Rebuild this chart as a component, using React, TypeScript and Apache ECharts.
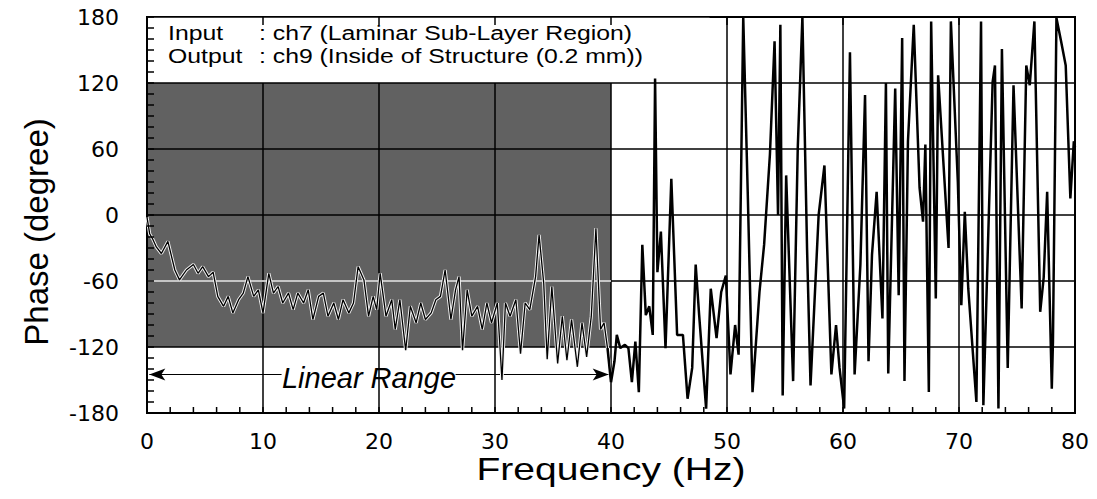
import React, { useEffect, useRef } from "react";
import * as echarts from "echarts";

const freq = [
  0, 0.23, 0.5, 0.8, 1.24, 1.8, 2.4, 2.8, 3.4, 4.0, 4.4, 4.8, 5.3, 5.7, 6.1, 6.6, 7.0, 7.4, 7.9, 8.3,
  8.7, 9.2, 9.6, 10.0, 10.5, 10.9, 11.3, 11.7, 12.2, 12.6, 13.0, 13.5, 13.9, 14.3, 14.8, 15.2, 15.6, 16.1, 16.5, 16.9,
  17.4, 17.8, 18.2, 18.7, 19.1, 19.5, 19.8, 20.1, 20.6, 21.1, 21.4, 21.8, 22.3, 22.7, 23.2, 23.6, 24.0, 24.5, 24.9, 25.3,
  25.7, 26.2, 26.6, 26.9, 27.2, 27.6, 28.0, 28.5, 28.9, 29.3, 29.7, 30.2, 30.6, 30.9, 31.3, 31.8, 32.2, 32.6, 33.0, 33.5,
  33.8, 34.2, 34.5, 34.9, 35.4, 35.8, 36.2, 36.6, 37.1, 37.5, 37.9, 38.3, 38.7, 39.1, 39.4, 39.7, 40.0, 40.3, 40.5, 40.8,
  41.2, 41.5, 41.8, 42.1, 42.4, 42.7, 43.0, 43.3, 43.6, 43.8, 44.0, 44.3, 44.7, 45.2, 45.7, 46.2, 46.6, 47.0, 47.3, 47.6,
  48.2, 48.6, 49.1, 49.5, 49.9, 50.3, 50.7, 51.0, 51.4, 51.8, 52.2, 52.8, 53.2, 53.7, 54.1, 54.4, 54.6, 54.8, 55.1, 55.7,
  56.1, 56.5, 56.9, 57.2, 57.9, 58.4, 59.0, 59.4, 59.7, 60.1, 60.6, 61.0, 61.5, 61.9, 62.2, 62.5, 62.9, 63.4, 63.7, 63.9,
  64.5, 64.8, 65.1, 65.3, 65.6, 66.1, 66.6, 66.9, 67.1, 67.4, 67.6, 68.0, 68.2, 69.1, 69.3, 69.9, 70.2, 70.5, 70.8, 71.5,
  71.9, 72.1, 72.9, 73.1, 73.4, 73.7, 74.2, 74.7, 75.4, 75.8, 76.1, 76.5, 77.0, 77.3, 77.6, 78.0, 78.1, 78.4, 78.8, 79.2,
  79.6, 79.9, 80.0,
];

const phase = [
  -2, -17, -22, -29, -35, -24, -50, -59, -50, -45, -53, -47, -56, -52, -74, -83, -74, -89, -77, -71,
  -56, -74, -68, -89, -53, -71, -65, -80, -71, -86, -71, -80, -68, -95, -74, -71, -92, -80, -95, -77,
  -89, -80, -47, -59, -92, -74, -86, -53, -92, -77, -104, -77, -123, -83, -98, -80, -95, -89, -77, -74,
  -50, -95, -68, -56, -123, -68, -92, -83, -104, -80, -98, -80, -150, -80, -92, -77, -126, -80, -86, -56,
  -18, -62, -131, -65, -135, -92, -132, -95, -138, -98, -129, -92, -12, -104, -98, -121, -152, -133, -109, -121,
  -118, -121, -152, -115, -161, -27, -91, -83, -109, 124, -52, -15, -121, 33, -109, -109, -167, -139, -45, -91,
  -176, -67, -112, -70, -55, -145, -100, -127, 180, 15, -161, -70, -27, 55, 158, 0, 173, -164, 36, -151,
  61, 180, -30, -155, 0, 45, -145, -100, -139, -176, 148, -145, -45, 109, -133, -36, 21, -94, 120, -144,
  115, -73, 161, -151, 67, 173, 25, -6, 64, -161, 176, -76, 127, -30, 176, 30, -82, 3, -67, -170,
  176, -173, 121, 136, -176, 151, -139, 118, -85, 136, 118, 176, -88, -57, 21, -158, -115, 179, 158, 136,
  15, 67, 62,
];

const linearRange = [0, 40];
const shadePhase = [-120, 120];
const yTicks = { min: -180, max: 180, interval: 60, minorStep: 10 };
const xTicks = { min: 0, max: 80, interval: 10, minorStep: 2 };

const FONT = "'Liberation Sans', Arial, Helvetica, sans-serif";
const WIDE = "'DejaVu Sans', Verdana, sans-serif";

export default function App() {
  const ref = useRef<HTMLDivElement>(null);
  useEffect(() => {
    if (!ref.current) return;
    const chart = echarts.init(ref.current, null, { renderer: "svg" });
    const pts = freq.map((f, i) => [f, phase[i]]);
    const inner = pts.filter((p) => p[0] <= linearRange[1] + 0.1);
    const outer = pts.filter((p) => p[0] >= linearRange[1] - 0.35);

    const texts: any[] = [
      { type: "text", z: 100, x: 168, y: 33, scaleX: 1.18, style: { text: "Input", font: `21px ${FONT}`, fill: "#000", textVerticalAlign: "middle" } },
      { type: "text", z: 100, x: 259, y: 33, scaleX: 1.18, style: { text: ": ch7 (Laminar Sub-Layer Region)", font: `21px ${FONT}`, fill: "#000", textVerticalAlign: "middle" } },
      { type: "text", z: 100, x: 168, y: 56, scaleX: 1.18, style: { text: "Output", font: `21px ${FONT}`, fill: "#000", textVerticalAlign: "middle" } },
      { type: "text", z: 100, x: 259, y: 56, scaleX: 1.18, style: { text: ": ch9 (Inside of Structure (0.2 mm))", font: `21px ${FONT}`, fill: "#000", textVerticalAlign: "middle" } },
      { type: "text", z: 100, x: 369, y: 378, style: { text: "Linear Range", font: `italic 29px ${FONT}`, fill: "#000", textAlign: "center", textVerticalAlign: "middle" } },
      { type: "text", z: 100, x: 611, y: 469, scaleX: 1.22, style: { text: "Frequency (Hz)", font: `32px ${FONT}`, fill: "#000", textAlign: "center", textVerticalAlign: "middle" } },
      { type: "text", z: 100, x: 36, y: 232, rotation: Math.PI / 2, style: { text: "Phase (degree)", font: `33px ${FONT}`, fill: "#000", textAlign: "center", textVerticalAlign: "middle" } },
    ];

    chart.setOption({
      animation: false,
      backgroundColor: "#fff",
      grid: {
        left: 147,
        right: 22,
        top: 17,
        bottom: 86,
        show: true,
        borderColor: "#000",
        borderWidth: 2,
        backgroundColor: "#fff",
      },
      xAxis: {
        type: "value",
        min: xTicks.min,
        max: xTicks.max,
        interval: xTicks.interval,
        z: 0,
        axisLine: { show: true, onZero: false, lineStyle: { color: "#000", width: 2 } },
        axisTick: { show: false },
        axisLabel: { color: "#000", fontSize: 22, fontFamily: WIDE, margin: 17 },
        splitLine: { show: true, lineStyle: { color: "#000", width: 1.5 } },
      },
      yAxis: {
        type: "value",
        min: yTicks.min,
        max: yTicks.max,
        interval: yTicks.interval,
        z: 5,
        axisLine: { show: true, onZero: false, lineStyle: { color: "#000", width: 2 } },
        axisTick: { show: false },
        axisLabel: { color: "#000", fontSize: 22, fontFamily: WIDE, margin: 28 },
        splitLine: { show: true, lineStyle: { color: "#000", width: 1.5 } },
      },
      series: [
        {
          type: "line",
          data: [],
          z: 2,
          silent: true,
          markArea: {
            silent: true,
            data: [
              [
                { coord: [linearRange[0], shadePhase[0]], itemStyle: { color: "rgba(0,0,0,0.62)" } },
                { coord: [linearRange[1], shadePhase[1]] },
              ],
              [
                { coord: [0, 120], itemStyle: { color: "#fff" } },
                { coord: [48.5, 180] },
              ],
            ],
          },
        },
        {
          type: "line",
          data: [],
          z: 6,
          silent: true,
          markLine: {
            silent: true,
            symbol: ["none", "none"],
            label: { show: false },
            data: [
              [
                { coord: [linearRange[0], -60], lineStyle: { color: "#fff", width: 1.5, type: "solid" } },
                { coord: [linearRange[1], -60] },
              ],
              [
                { coord: [0.2, -145], symbol: "arrow", symbolSize: [9, 16], lineStyle: { color: "#000", width: 1.2, type: "solid" } },
                { coord: [11.6, -145], symbol: "none" },
              ],
              [
                { coord: [26.6, -145], symbol: "none", lineStyle: { color: "#000", width: 1.2, type: "solid" } },
                { coord: [39.8, -145], symbol: "arrow", symbolSize: [9, 16] },
              ],
            ],
          },
        },
        {
          type: "line",
          data: inner,
          z: 7,
          silent: true,
          showSymbol: false,
          symbol: "none",
          lineStyle: { color: "#f2f2f2", width: 3.2 },
        },
        {
          type: "line",
          data: inner,
          z: 8,
          silent: true,
          showSymbol: false,
          symbol: "none",
          lineStyle: { color: "#000", width: 1.3 },
        },
        {
          type: "line",
          data: outer,
          z: 8,
          silent: true,
          showSymbol: false,
          symbol: "none",
          lineStyle: { color: "#000", width: 2.5 },
        },
      ],
      graphic: texts,
    });

    // tick marks derived from the axis scales
    const ticks: any[] = [];
    const x0 = chart.convertToPixel({ xAxisIndex: 0 }, xTicks.min) as number;
    const x1 = chart.convertToPixel({ xAxisIndex: 0 }, xTicks.max) as number;
    const yTop = chart.convertToPixel({ yAxisIndex: 0 }, yTicks.max) as number;
    const yBot = chart.convertToPixel({ yAxisIndex: 0 }, yTicks.min) as number;
    const tickStyle = { stroke: "#000", lineWidth: 1.5 };
    for (let v = yTicks.min; v <= yTicks.max; v += yTicks.minorStep) {
      const py = chart.convertToPixel({ yAxisIndex: 0 }, v) as number;
      ticks.push({ type: "line", z: 90, shape: { x1: x0, y1: py, x2: x0 + 7, y2: py }, style: tickStyle });
    }
    for (let v = xTicks.min; v <= xTicks.max; v += xTicks.minorStep) {
      const px = chart.convertToPixel({ xAxisIndex: 0 }, v) as number;
      ticks.push({ type: "line", z: 90, shape: { x1: px, y1: yBot, x2: px, y2: yBot - 6 }, style: tickStyle });
      if (v % xTicks.interval === 0) {
        ticks.push({ type: "line", z: 90, shape: { x1: px, y1: yTop, x2: px, y2: yTop + 8 }, style: tickStyle });
      }
    }
    void x1;
    chart.setOption({ graphic: [...texts, ...ticks] });

    return () => chart.dispose();
  }, []);
  return <div ref={ref} style={{ position: "absolute", left: 0, top: 0, width: 1097, height: 499 }} />;
}
